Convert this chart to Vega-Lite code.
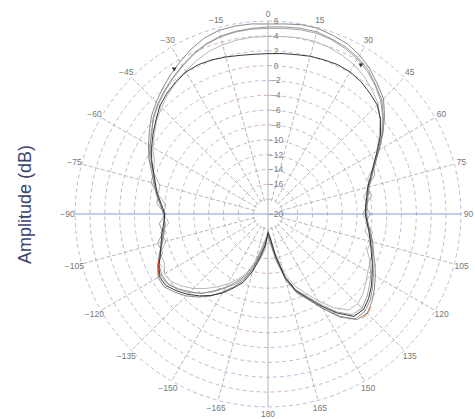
{
  "$schema": "https://vega.github.io/schema/vega-lite/v6.json",
  "width": 386,
  "height": 386,
  "autosize": "none",
  "padding": {"left": 75, "top": 21, "right": 14, "bottom": 12},
  "background": "white",
  "config": {"view": {"stroke": null}, "font": "Liberation Sans"},
  "datasets": {
    "ringgrid": [{"v": [-18, -16, -14, -12, -10, -8, -6, -4, -2, 0, 2, 4, 6], "a": [0, 5, 10, 15, 20, 25, 30, 35, 40, 45, 50, 55, 60, 65, 70, 75, 80, 85, 90, 95, 100, 105, 110, 115, 120, 125, 130, 135, 140, 145, 150, 155, 160, 165, 170, 175, 180, 185, 190, 195, 200, 205, 210, 215, 220, 225, 230, 235, 240, 245, 250, 255, 260, 265, 270, 275, 280, 285, 290, 295, 300, 305, 310, 315, 320, 325, 330, 335, 340, 345, 350, 355, 360]}],
    "ringlabels": [{"v": -20}, {"v": -16}, {"v": -14}, {"v": -12}, {"v": -10}, {"v": -8}, {"v": -6}, {"v": -4}, {"v": -2}, {"v": 0}, {"v": 2}, {"v": 4}, {"v": 6}],
    "angles": [{"a": -165}, {"a": -150}, {"a": -135}, {"a": -120}, {"a": -105}, {"a": -90}, {"a": -75}, {"a": -60}, {"a": -45}, {"a": -30}, {"a": -15}, {"a": 0}, {"a": 15}, {"a": 30}, {"a": 45}, {"a": 60}, {"a": 75}, {"a": 90}, {"a": 105}, {"a": 120}, {"a": 135}, {"a": 150}, {"a": 165}, {"a": 180}],
    "markers": [{"a": -33, "v": 3.2}, {"a": 32, "v": 3.6}],
    "accents": [
      {"trace": "R", "a": -119, "v": -3.2}, {"trace": "R", "a": -117, "v": -3.4}, {"trace": "R", "a": -115, "v": -3.7}, {"trace": "R", "a": -113, "v": -4.0},
      {"trace": "O", "a": 132, "v": -1.3}, {"trace": "O", "a": 134, "v": -1.1}, {"trace": "O", "a": 136, "v": -1.0}, {"trace": "O", "a": 138, "v": -1.1}
    ],
    "pattern": [
      {"a": -180, "A": -17.3, "B": -17.8, "C": -16.9, "D": -17.5, "E": -17.0},
      {"a": -175, "A": -16.0, "B": -15.2, "C": -16.8, "D": -15.7, "E": -16.4},
      {"a": -170, "A": -14.6, "B": -13.8, "C": -15.5, "D": -14.2, "E": -15.0},
      {"a": -165, "A": -12.6, "B": -12.2, "C": -13.4, "D": -12.0, "E": -13.0},
      {"a": -160, "A": -10.6, "B": -10.9, "C": -11.5, "D": -10.2, "E": -11.2},
      {"a": -155, "A": -9.2, "B": -9.6, "C": -10.3, "D": -9.0, "E": -9.9},
      {"a": -150, "A": -7.9, "B": -8.5, "C": -9.1, "D": -7.7, "E": -8.6},
      {"a": -145, "A": -6.5, "B": -7.2, "C": -8.0, "D": -6.6, "E": -7.4},
      {"a": -140, "A": -5.4, "B": -6.1, "C": -6.9, "D": -5.6, "E": -6.0},
      {"a": -135, "A": -4.4, "B": -5.0, "C": -5.8, "D": -4.7, "E": -5.2},
      {"a": -130, "A": -3.6, "B": -4.2, "C": -4.9, "D": -3.9, "E": -4.3},
      {"a": -125, "A": -2.9, "B": -3.5, "C": -4.1, "D": -3.2, "E": -3.6},
      {"a": -120, "A": -2.9, "B": -3.3, "C": -3.9, "D": -3.1, "E": -3.5},
      {"a": -115, "A": -3.6, "B": -3.6, "C": -4.6, "D": -3.8, "E": -3.8},
      {"a": -110, "A": -4.5, "B": -4.9, "C": -4.5, "D": -4.6, "E": -4.4},
      {"a": -105, "A": -5.2, "B": -4.6, "C": -5.8, "D": -5.1, "E": -5.3},
      {"a": -100, "A": -5.7, "B": -5.6, "C": -5.3, "D": -5.5, "E": -5.8},
      {"a": -95, "A": -6.0, "B": -5.3, "C": -6.6, "D": -5.9, "E": -6.1},
      {"a": -90, "A": -6.0, "B": -6.2, "C": -5.9, "D": -6.1, "E": -5.9},
      {"a": -85, "A": -5.4, "B": -5.0, "C": -6.2, "D": -5.6, "E": -5.5},
      {"a": -80, "A": -4.8, "B": -4.9, "C": -5.0, "D": -4.9, "E": -4.7},
      {"a": -75, "A": -4.1, "B": -3.7, "C": -4.9, "D": -4.3, "E": -4.2},
      {"a": -70, "A": -3.3, "B": -3.6, "C": -3.6, "D": -3.6, "E": -3.5},
      {"a": -65, "A": -2.3, "B": -2.3, "C": -3.1, "D": -2.7, "E": -2.6},
      {"a": -60, "A": -1.4, "B": -1.7, "C": -2.1, "D": -1.9, "E": -1.6},
      {"a": -55, "A": -0.5, "B": -0.8, "C": -1.3, "D": -1.1, "E": -0.9},
      {"a": -50, "A": 0.5, "B": 0.1, "C": -0.4, "D": -0.3, "E": 0.2},
      {"a": -45, "A": 1.3, "B": 0.9, "C": 0.3, "D": 0.6, "E": 1.0},
      {"a": -40, "A": 2.1, "B": 1.6, "C": 1.0, "D": 1.2, "E": 1.7},
      {"a": -35, "A": 2.9, "B": 2.3, "C": 1.6, "D": 1.7, "E": 2.4},
      {"a": -30, "A": 3.7, "B": 3.0, "C": 2.2, "D": 2.1, "E": 3.1},
      {"a": -25, "A": 4.5, "B": 3.7, "C": 2.8, "D": 2.2, "E": 3.8},
      {"a": -20, "A": 5.2, "B": 4.3, "C": 3.3, "D": 2.1, "E": 4.4},
      {"a": -15, "A": 5.6, "B": 4.7, "C": 3.6, "D": 1.9, "E": 4.8},
      {"a": -10, "A": 5.7, "B": 4.9, "C": 3.8, "D": 1.7, "E": 5.0},
      {"a": -5, "A": 5.7, "B": 5.0, "C": 3.9, "D": 1.6, "E": 5.1},
      {"a": 0, "A": 5.6, "B": 5.0, "C": 3.9, "D": 1.6, "E": 5.2},
      {"a": 5, "A": 5.7, "B": 5.1, "C": 4.0, "D": 1.7, "E": 5.3},
      {"a": 10, "A": 5.9, "B": 5.2, "C": 4.1, "D": 1.8, "E": 5.4},
      {"a": 15, "A": 5.9, "B": 5.2, "C": 4.1, "D": 2.0, "E": 5.4},
      {"a": 20, "A": 5.6, "B": 5.0, "C": 3.9, "D": 2.1, "E": 5.1},
      {"a": 25, "A": 5.3, "B": 4.6, "C": 3.6, "D": 2.2, "E": 4.8},
      {"a": 30, "A": 4.7, "B": 4.1, "C": 3.2, "D": 2.1, "E": 4.3},
      {"a": 35, "A": 3.9, "B": 3.4, "C": 2.6, "D": 1.8, "E": 3.6},
      {"a": 40, "A": 2.9, "B": 2.5, "C": 1.8, "D": 1.3, "E": 2.6},
      {"a": 45, "A": 2.0, "B": 1.5, "C": 1.0, "D": 0.8, "E": 1.7},
      {"a": 50, "A": 0.5, "B": 0.2, "C": -0.3, "D": -0.2, "E": 0.3},
      {"a": 55, "A": -1.1, "B": -1.3, "C": -1.7, "D": -1.5, "E": -1.2},
      {"a": 60, "A": -2.7, "B": -2.8, "C": -3.1, "D": -3.0, "E": -2.8},
      {"a": 65, "A": -4.1, "B": -4.3, "C": -4.0, "D": -4.3, "E": -4.2},
      {"a": 70, "A": -5.2, "B": -4.7, "C": -5.7, "D": -5.3, "E": -5.1},
      {"a": 75, "A": -6.0, "B": -6.1, "C": -5.9, "D": -6.1, "E": -5.9},
      {"a": 80, "A": -6.4, "B": -5.8, "C": -6.9, "D": -6.5, "E": -6.3},
      {"a": 85, "A": -6.7, "B": -6.9, "C": -6.5, "D": -6.8, "E": -6.6},
      {"a": 90, "A": -6.8, "B": -6.2, "C": -7.3, "D": -6.9, "E": -6.7},
      {"a": 95, "A": -6.5, "B": -6.8, "C": -6.5, "D": -6.6, "E": -6.5},
      {"a": 100, "A": -6.0, "B": -5.7, "C": -6.7, "D": -6.2, "E": -6.1},
      {"a": 105, "A": -5.4, "B": -5.9, "C": -5.6, "D": -5.7, "E": -5.5},
      {"a": 110, "A": -4.9, "B": -4.9, "C": -5.8, "D": -5.2, "E": -5.0},
      {"a": 115, "A": -4.1, "B": -4.9, "C": -4.8, "D": -4.5, "E": -4.4},
      {"a": 120, "A": -3.3, "B": -4.0, "C": -4.5, "D": -3.8, "E": -3.6},
      {"a": 125, "A": -2.5, "B": -3.3, "C": -3.9, "D": -3.0, "E": -2.8},
      {"a": 130, "A": -1.7, "B": -2.6, "C": -3.3, "D": -2.3, "E": -2.0},
      {"a": 135, "A": -1.1, "B": -2.1, "C": -2.9, "D": -1.8, "E": -1.5},
      {"a": 140, "A": -1.4, "B": -2.3, "C": -3.1, "D": -2.0, "E": -1.6},
      {"a": 145, "A": -3.2, "B": -3.9, "C": -4.6, "D": -3.7, "E": -3.0},
      {"a": 150, "A": -5.4, "B": -6.0, "C": -6.5, "D": -5.7, "E": -5.3},
      {"a": 155, "A": -7.3, "B": -7.8, "C": -8.3, "D": -7.6, "E": -7.4},
      {"a": 160, "A": -8.7, "B": -9.2, "C": -9.8, "D": -9.0, "E": -8.9},
      {"a": 165, "A": -10.8, "B": -11.3, "C": -11.9, "D": -11.2, "E": -11.0},
      {"a": 170, "A": -13.9, "B": -14.2, "C": -14.8, "D": -14.4, "E": -13.6},
      {"a": 175, "A": -16.2, "B": -16.6, "C": -17.0, "D": -16.8, "E": -15.9},
      {"a": 180, "A": -17.3, "B": -17.8, "C": -16.9, "D": -17.5, "E": -17.0}
    ]
  },
  "layer": [
    {
      "data": {"name": "ringgrid"},
      "transform": [
        {"flatten": ["v"]},
        {"flatten": ["a"]},
        {"calculate": "(datum.v + 20) * sin(datum.a * PI / 180)", "as": "x"},
        {"calculate": "(datum.v + 20) * cos(datum.a * PI / 180)", "as": "y"}
      ],
      "mark": {"type": "line", "strokeWidth": 0.8, "strokeDash": [4, 3], "interpolate": "linear"},
      "encoding": {
        "x": {"field": "x", "type": "quantitative", "scale": {"domain": [-26, 26], "nice": false, "zero": false}, "axis": null},
        "y": {"field": "y", "type": "quantitative", "scale": {"domain": [-26, 26], "nice": false, "zero": false},
          "axis": {"title": "Amplitude (dB)", "labels": false, "ticks": false, "domain": false, "grid": false, "titleFontSize": 18, "titleFontWeight": "normal", "titleColor": "#3b4570", "titleFont": "Liberation Sans", "titleX": -50, "titleY": 183, "titleBaseline": "middle", "titleAlign": "center", "titleAngle": -90}},
        "detail": {"field": "v", "type": "nominal"},
        "order": {"field": "a", "type": "quantitative"},
        "color": {"condition": {"test": "datum.v % 4 == 0", "value": "#c9a0c6"}, "value": "#b0acd4"}
      }
    },
    {
      "data": {"name": "angles"},
      "transform": [
        {"calculate": "(datum.a % 90 == 0) ? 0 : 1.8", "as": "r0"},
        {"calculate": "datum.r0 * sin(datum.a * PI / 180)", "as": "x"},
        {"calculate": "datum.r0 * cos(datum.a * PI / 180)", "as": "y"},
        {"calculate": "26 * sin(datum.a * PI / 180)", "as": "x2"},
        {"calculate": "26 * cos(datum.a * PI / 180)", "as": "y2"}
      ],
      "mark": {"type": "rule", "strokeWidth": 0.8},
      "encoding": {
        "x": {"field": "x", "type": "quantitative", "scale": {"domain": [-26, 26], "nice": false, "zero": false}, "axis": null},
        "y": {"field": "y", "type": "quantitative", "scale": {"domain": [-26, 26], "nice": false, "zero": false},
          "axis": {"title": "Amplitude (dB)", "labels": false, "ticks": false, "domain": false, "grid": false, "titleFontSize": 18, "titleFontWeight": "normal", "titleColor": "#3b4570", "titleFont": "Liberation Sans", "titleX": -50, "titleY": 183, "titleBaseline": "middle", "titleAlign": "center", "titleAngle": -90}},
        "x2": {"field": "x2"},
        "y2": {"field": "y2"},
        "color": {"condition": {"test": "abs(datum.a) == 90", "value": "#5f86dc"}, "value": "#a5a5a5"},
        "strokeDash": {"condition": {"test": "datum.a % 90 == 0", "value": [1, 0]}, "value": [4, 2]}
      }
    },
    {
      "data": {"name": "angles"},
      "transform": [
        {"calculate": "27 * sin(datum.a * PI / 180)", "as": "x"},
        {"calculate": "27 * cos(datum.a * PI / 180)", "as": "y"}
      ],
      "mark": {"type": "text", "fontSize": 8.5, "color": "#777777", "align": "center", "baseline": "middle"},
      "encoding": {
        "x": {"field": "x", "type": "quantitative", "scale": {"domain": [-26, 26], "nice": false, "zero": false}, "axis": null},
        "y": {"field": "y", "type": "quantitative", "scale": {"domain": [-26, 26], "nice": false, "zero": false},
          "axis": {"title": "Amplitude (dB)", "labels": false, "ticks": false, "domain": false, "grid": false, "titleFontSize": 18, "titleFontWeight": "normal", "titleColor": "#3b4570", "titleFont": "Liberation Sans", "titleX": -50, "titleY": 183, "titleBaseline": "middle", "titleAlign": "center", "titleAngle": -90}},
        "text": {"field": "a", "type": "quantitative"}
      }
    },
    {
      "data": {"name": "ringlabels"},
      "transform": [
        {"calculate": "datum.v + 20", "as": "u"},
        {"calculate": "0", "as": "x0"}
      ],
      "mark": {"type": "text", "fontSize": 8.5, "color": "#808080", "align": "center", "baseline": "middle", "dx": 8},
      "encoding": {
        "x": {"field": "x0", "type": "quantitative", "scale": {"domain": [-26, 26], "nice": false, "zero": false}, "axis": null},
        "y": {"field": "u", "type": "quantitative", "scale": {"domain": [-26, 26], "nice": false, "zero": false},
          "axis": {"title": "Amplitude (dB)", "labels": false, "ticks": false, "domain": false, "grid": false, "titleFontSize": 18, "titleFontWeight": "normal", "titleColor": "#3b4570", "titleFont": "Liberation Sans", "titleX": -50, "titleY": 183, "titleBaseline": "middle", "titleAlign": "center", "titleAngle": -90}},
        "text": {"field": "v", "type": "quantitative"}
      }
    },
    {
      "data": {"name": "pattern"},
      "transform": [
        {"fold": ["C", "B", "E", "A", "D"], "as": ["trace", "v"]},
        {"calculate": "datum.v + 20", "as": "u"},
        {"calculate": "datum.u * sin(datum.a * PI / 180)", "as": "x"},
        {"calculate": "datum.u * cos(datum.a * PI / 180)", "as": "y"}
      ],
      "mark": {"type": "line", "strokeJoin": "round"},
      "encoding": {
        "x": {"field": "x", "type": "quantitative", "scale": {"domain": [-26, 26], "nice": false, "zero": false}, "axis": null},
        "y": {"field": "y", "type": "quantitative", "scale": {"domain": [-26, 26], "nice": false, "zero": false},
          "axis": {"title": "Amplitude (dB)", "labels": false, "ticks": false, "domain": false, "grid": false, "titleFontSize": 18, "titleFontWeight": "normal", "titleColor": "#3b4570", "titleFont": "Liberation Sans", "titleX": -50, "titleY": 183, "titleBaseline": "middle", "titleAlign": "center", "titleAngle": -90}},
        "order": {"field": "a", "type": "quantitative"},
        "detail": {"field": "trace", "type": "nominal"},
        "color": {"field": "trace", "type": "nominal", "legend": null, "scale": {"domain": ["A", "B", "C", "D", "E", "R", "O"], "range": ["#7d7d7d", "#999999", "#b0b0b0", "#222222", "#8a8a8a", "#d23a1e", "#e0882a"]}},
        "strokeWidth": {"field": "trace", "type": "ordinal", "legend": null, "scale": {"domain": ["A", "B", "C", "D", "E", "R", "O"], "range": [0.9, 0.9, 0.8, 1.6, 0.9, 1.4, 1.4]}}
      }
    },
    {
      "data": {"name": "accents"},
      "transform": [
        {"calculate": "datum.v + 20", "as": "u"},
        {"calculate": "datum.u * sin(datum.a * PI / 180)", "as": "x"},
        {"calculate": "datum.u * cos(datum.a * PI / 180)", "as": "y"}
      ],
      "mark": {"type": "line", "strokeJoin": "round"},
      "encoding": {
        "x": {"field": "x", "type": "quantitative", "scale": {"domain": [-26, 26], "nice": false, "zero": false}, "axis": null},
        "y": {"field": "y", "type": "quantitative", "scale": {"domain": [-26, 26], "nice": false, "zero": false},
          "axis": {"title": "Amplitude (dB)", "labels": false, "ticks": false, "domain": false, "grid": false, "titleFontSize": 18, "titleFontWeight": "normal", "titleColor": "#3b4570", "titleFont": "Liberation Sans", "titleX": -50, "titleY": 183, "titleBaseline": "middle", "titleAlign": "center", "titleAngle": -90}},
        "order": {"field": "a", "type": "quantitative"},
        "detail": {"field": "trace", "type": "nominal"},
        "color": {"field": "trace", "type": "nominal", "legend": null, "scale": {"domain": ["A", "B", "C", "D", "E", "R", "O"], "range": ["#7d7d7d", "#999999", "#b0b0b0", "#222222", "#8a8a8a", "#d23a1e", "#e0882a"]}},
        "strokeWidth": {"field": "trace", "type": "ordinal", "legend": null, "scale": {"domain": ["A", "B", "C", "D", "E", "R", "O"], "range": [0.9, 0.9, 0.8, 1.6, 0.9, 1.4, 1.4]}}
      }
    },
    {
      "data": {"name": "markers"},
      "transform": [
        {"calculate": "datum.v + 20", "as": "u"},
        {"calculate": "datum.u * sin(datum.a * PI / 180)", "as": "x"},
        {"calculate": "datum.u * cos(datum.a * PI / 180)", "as": "y"}
      ],
      "mark": {"type": "point", "shape": "triangle-down", "filled": true, "size": 22, "color": "#333333", "opacity": 1},
      "encoding": {
        "x": {"field": "x", "type": "quantitative", "scale": {"domain": [-26, 26], "nice": false, "zero": false}, "axis": null},
        "y": {"field": "y", "type": "quantitative", "scale": {"domain": [-26, 26], "nice": false, "zero": false},
          "axis": {"title": "Amplitude (dB)", "labels": false, "ticks": false, "domain": false, "grid": false, "titleFontSize": 18, "titleFontWeight": "normal", "titleColor": "#3b4570", "titleFont": "Liberation Sans", "titleX": -50, "titleY": 183, "titleBaseline": "middle", "titleAlign": "center", "titleAngle": -90}}
      }
    }
  ]
}
